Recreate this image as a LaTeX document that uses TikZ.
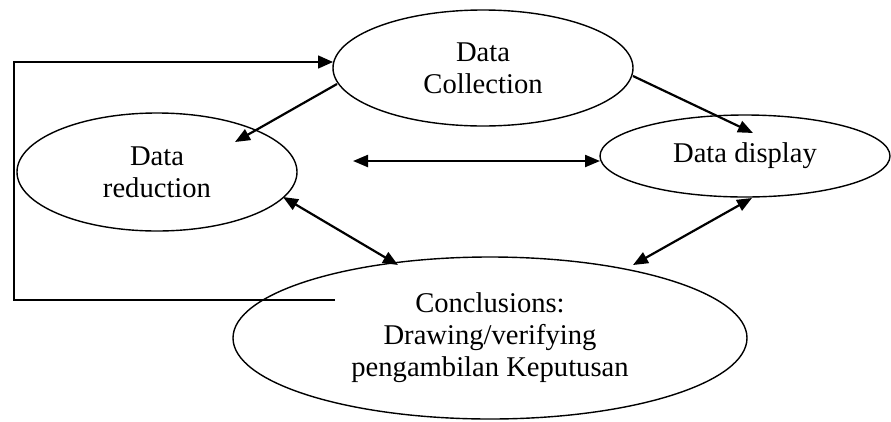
\documentclass[tikz,border=0pt]{standalone}
\usepackage{fontspec}
\setmainfont{Liberation Serif}
\usepackage{tikz}
\usetikzlibrary{shapes.geometric,arrows.meta}

\begin{document}
\begin{tikzpicture}[x=1pt, y=-1pt,
    oval/.style={ellipse, draw, line width=1.4pt, inner sep=0pt, align=center,
                 font=\fontsize{28.6}{32}\selectfont},
    arr/.style={-{Triangle[length=15pt,width=12pt]}, line width=2.2pt},
    dbl/.style={{Triangle[length=15pt,width=12pt]}-{Triangle[length=15pt,width=12pt]}, line width=2.2pt}]
    \useasboundingbox (0,0) rectangle (891,421);

    \node (coll) [oval, minimum width=300pt, minimum height=116pt] at (483,68) {Data\\Collection};
    \node (red) [oval, minimum width=280pt, minimum height=118pt] at (157,172) {Data\\reduction};
    \node (disp) [oval, minimum width=290pt, minimum height=82pt] at (745,156) {Data display};
    \node (conc) [oval, minimum width=514pt, minimum height=162pt] at (490,338) {Conclusions:\\Drawing/verifying\\pengambilan Keputusan};
    \coordinate (corner) at (14,300);

    \draw[arr] ([shift={(-146,16)}]coll.center) -- ([shift={(78,-30)}]red.center);
    \draw[arr] ([shift={(150,8)}]coll.center) -- ([shift={(8,-23)}]disp.center);
    \draw[dbl] ([shift={(196,-11)}]red.center) -- ([shift={(-145,5)}]disp.center);
    \draw[dbl] ([shift={(126,25)}]red.center) -- ([shift={(-92,-73)}]conc.center);
    \draw[dbl] ([shift={(7,42)}]disp.center) -- ([shift={(143,-73)}]conc.center);
    \draw[-{Triangle[length=15pt,width=13pt]}, line width=1.6pt] ([shift={(-155,-38)}]conc.center) -- (corner) |- ([shift={(-150,-6)}]coll.center);
\end{tikzpicture}
\end{document}
